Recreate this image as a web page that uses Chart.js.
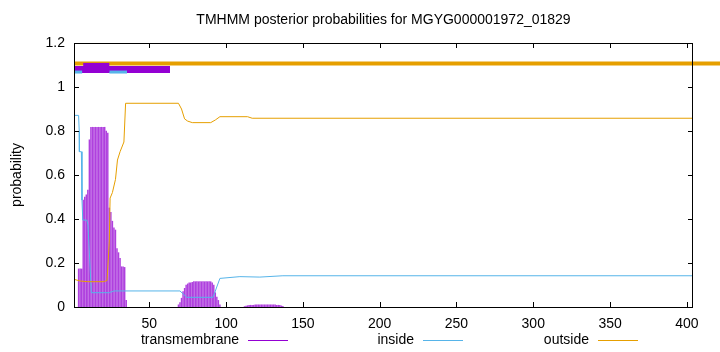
<!DOCTYPE html>
<html>
<head>
<meta charset="utf-8">
<script src="https://cdn.jsdelivr.net/npm/chart.js@4.4.1/dist/chart.umd.min.js"></script>
<style>
  html, body { margin: 0; padding: 0; background: #fff; }
</style>
</head>
<body>
<canvas id="tmhmm" width="720" height="352"></canvas>
<script>
// axis ticks
const xTicks = [50, 100, 150, 200, 250, 300, 350, 400];
const yTicks = [0, 0.2, 0.4, 0.6, 0.8, 1, 1.2];
const yTickLabels = ['0', '0.2', '0.4', '0.6', '0.8', '1', '1.2'];

// posterior probabilities (residue -> probability)
const insideX = [1, 4, 4.4, 4.5, 5.8, 6.2, 6.7, 9.3, 10.1, 12.3, 24, 27, 70, 74.4, 91.5, 96, 109, 122, 137, 404];
const insideY = [0.871, 0.871, 0.8, 0.706, 0.706, 0.486, 0.395, 0.395, 0.373, 0.065, 0.065, 0.073, 0.073, 0.044, 0.044, 0.13, 0.138, 0.136, 0.142, 0.142];

const outsideX = [1, 5, 10, 20, 22.5, 24, 24.5, 26, 28, 29.3, 31, 33.5, 34.6, 69, 71, 73, 75, 78, 90, 93, 96, 114, 117, 404];
const outsideY = [0.126, 0.118, 0.115, 0.115, 0.12, 0.3, 0.495, 0.52, 0.58, 0.668, 0.706, 0.75, 0.926, 0.926, 0.9, 0.855, 0.845, 0.838, 0.838, 0.85, 0.865, 0.865, 0.858, 0.858];

const tmX = [4, 5, 6, 7, 8, 9, 10, 11, 12, 13, 14, 15, 16, 17, 18, 19, 20, 21, 22, 23, 24, 25, 26, 27, 28, 29, 30, 31, 32, 33, 34, 35,
  69, 70, 71, 72, 73, 74, 75, 76, 77, 78, 79, 80, 81, 82, 83, 84, 85, 86, 87, 88, 89, 90, 91, 92, 93, 94, 95, 96,
  112, 113, 114, 115, 116, 117, 118, 119, 120, 121, 122, 123, 124, 125, 126, 127, 128, 129, 130, 131, 132, 133, 134, 135, 136, 137];
const tmY = [0.173, 0.173, 0.173, 0.486, 0.5, 0.51, 0.532, 0.76, 0.817, 0.817, 0.817, 0.817, 0.817, 0.817, 0.817, 0.817, 0.817, 0.817, 0.8, 0.79, 0.45, 0.43, 0.39, 0.36, 0.35, 0.265, 0.247, 0.221, 0.183, 0.183, 0.18, 0.03,
  0.01, 0.02, 0.04, 0.07, 0.085, 0.1, 0.105, 0.11, 0.11, 0.112, 0.115, 0.115, 0.115, 0.115, 0.115, 0.115, 0.115, 0.115, 0.115, 0.115, 0.115, 0.115, 0.11, 0.1, 0.065, 0.045, 0.03, 0.01,
  0.002, 0.004, 0.006, 0.008, 0.008, 0.008, 0.008, 0.01, 0.01, 0.01, 0.01, 0.01, 0.01, 0.01, 0.01, 0.01, 0.01, 0.01, 0.01, 0.01, 0.01, 0.008, 0.008, 0.008, 0.005, 0.003];

// predicted topology strips at the top
const topoOutsideX = [1, 425];
const topoOutsideY = 1.107;
const topoTmX = [1.6, 63.5];
const topoTmY = 1.08;
const topoTmCoreX = [7, 24];
const topoTmCoreY = 1.089;
const topoInsideX = [[1, 6.3], [24, 35.5]];
const topoInsideY = 1.068;

const purple = '#9400d3';
const cyan = '#56b4e9';
const orange = '#e69f00';
const font = '"Liberation Sans", Arial, sans-serif';

const pts = (xs, ys) => xs.map((x, i) => ({ x: x, y: Array.isArray(ys) ? ys[i] : ys }));

function strip(xs, y, color, width, order) {
  return {
    type: 'line', data: pts(xs, y), borderColor: color, borderWidth: width,
    pointRadius: 0, fill: false, clip: false, order: order, borderCapStyle: 'butt'
  };
}

// gnuplot-like frame, inward ticks, title and legend
const frame = {
  id: 'frame',
  afterDatasetsDraw(chart) {
    const { ctx, chartArea: a, scales } = chart;
    ctx.save();
    ctx.strokeStyle = '#000';
    ctx.lineWidth = 1;
    ctx.strokeRect(a.left + 0.5, a.top + 0.5, a.right - a.left - 1, a.bottom - a.top);
    ctx.beginPath();
    xTicks.forEach(t => {
      const x = Math.round(scales.x.getPixelForValue(t)) + 0.5;
      ctx.moveTo(x, a.bottom); ctx.lineTo(x, a.bottom - 5);
      ctx.moveTo(x, a.top); ctx.lineTo(x, a.top + 5);
    });
    yTicks.forEach(t => {
      const y = Math.round(scales.y.getPixelForValue(t)) + 0.5;
      ctx.moveTo(a.left, y); ctx.lineTo(a.left + 5, y);
      ctx.moveTo(a.right, y); ctx.lineTo(a.right - 5, y);
    });
    ctx.stroke();
    ctx.restore();
  },
  afterDraw(chart) {
    const { ctx, chartArea: a } = chart;
    ctx.save();
    ctx.fillStyle = '#000';
    ctx.font = '14px ' + font;
    ctx.textBaseline = 'middle';
    ctx.textAlign = 'center';
    ctx.fillText('TMHMM posterior probabilities for MGYG000001972_01829', (a.left + a.right) / 2, 20);

    ctx.save();
    ctx.translate(17, (a.top + a.bottom) / 2);
    ctx.rotate(-Math.PI / 2);
    ctx.fillText('probability', 0, 0);
    ctx.restore();

    const items = [['transmembrane', purple, 239], ['inside', cyan, 414], ['outside', orange, 589]];
    ctx.textAlign = 'right';
    items.forEach(([label, color, x]) => {
      ctx.fillStyle = '#000';
      ctx.fillText(label, x, 340);
      ctx.strokeStyle = color;
      ctx.lineWidth = 1;
      ctx.beginPath();
      ctx.moveTo(x + 9, 340.5); ctx.lineTo(x + 49, 340.5);
      ctx.stroke();
    });
    ctx.restore();
  }
};

new Chart(document.getElementById('tmhmm'), {
  data: {
    datasets: [
      strip(topoOutsideX, topoOutsideY, orange, 4, 10),
      strip(topoTmX, topoTmY, purple, 7, 9),
      strip(topoInsideX[0], topoInsideY, cyan, 3, 8),
      strip(topoInsideX[1], topoInsideY, cyan, 3, 8),
      strip(topoTmCoreX, topoTmCoreY, purple, 9, 7),
      {
        type: 'bar', label: 'transmembrane', data: pts(tmX, tmY),
        backgroundColor: 'rgba(148, 0, 211, 0.75)', barThickness: 0.8, order: 6
      },
      {
        type: 'line', label: 'inside', data: pts(insideX, insideY),
        borderColor: cyan, borderWidth: 1, pointRadius: 0, fill: false, order: 5
      },
      {
        type: 'line', label: 'outside', data: pts(outsideX, outsideY),
        borderColor: orange, borderWidth: 1, pointRadius: 0, fill: false, order: 4
      }
    ]
  },
  options: {
    responsive: false,
    animation: false,
    devicePixelRatio: 1,
    layout: { padding: { top: 43, right: 27, left: 0, bottom: 0 } },
    plugins: { legend: { display: false }, title: { display: false }, tooltip: { enabled: false } },
    scales: {
      x: {
        type: 'linear', min: 1, max: 404, offset: false,
        grid: { display: false, drawTicks: false, offset: false },
        border: { display: false },
        afterBuildTicks: s => { s.ticks = xTicks.map(v => ({ value: v })); },
        afterFit: s => { s.height = 45; },
        ticks: { color: '#000', font: { family: font, size: 14 }, padding: 9, maxRotation: 0 }
      },
      y: {
        type: 'linear', min: 0, max: 1.2,
        grid: { display: false, drawTicks: false },
        border: { display: false },
        afterBuildTicks: s => { s.ticks = yTicks.map(v => ({ value: v })); },
        afterFit: s => { s.width = 74; },
        ticks: {
          color: '#000', font: { family: font, size: 14 }, padding: 9,
          callback: (v, i) => yTickLabels[i]
        }
      }
    }
  },
  plugins: [frame]
});
</script>
</body>
</html>
